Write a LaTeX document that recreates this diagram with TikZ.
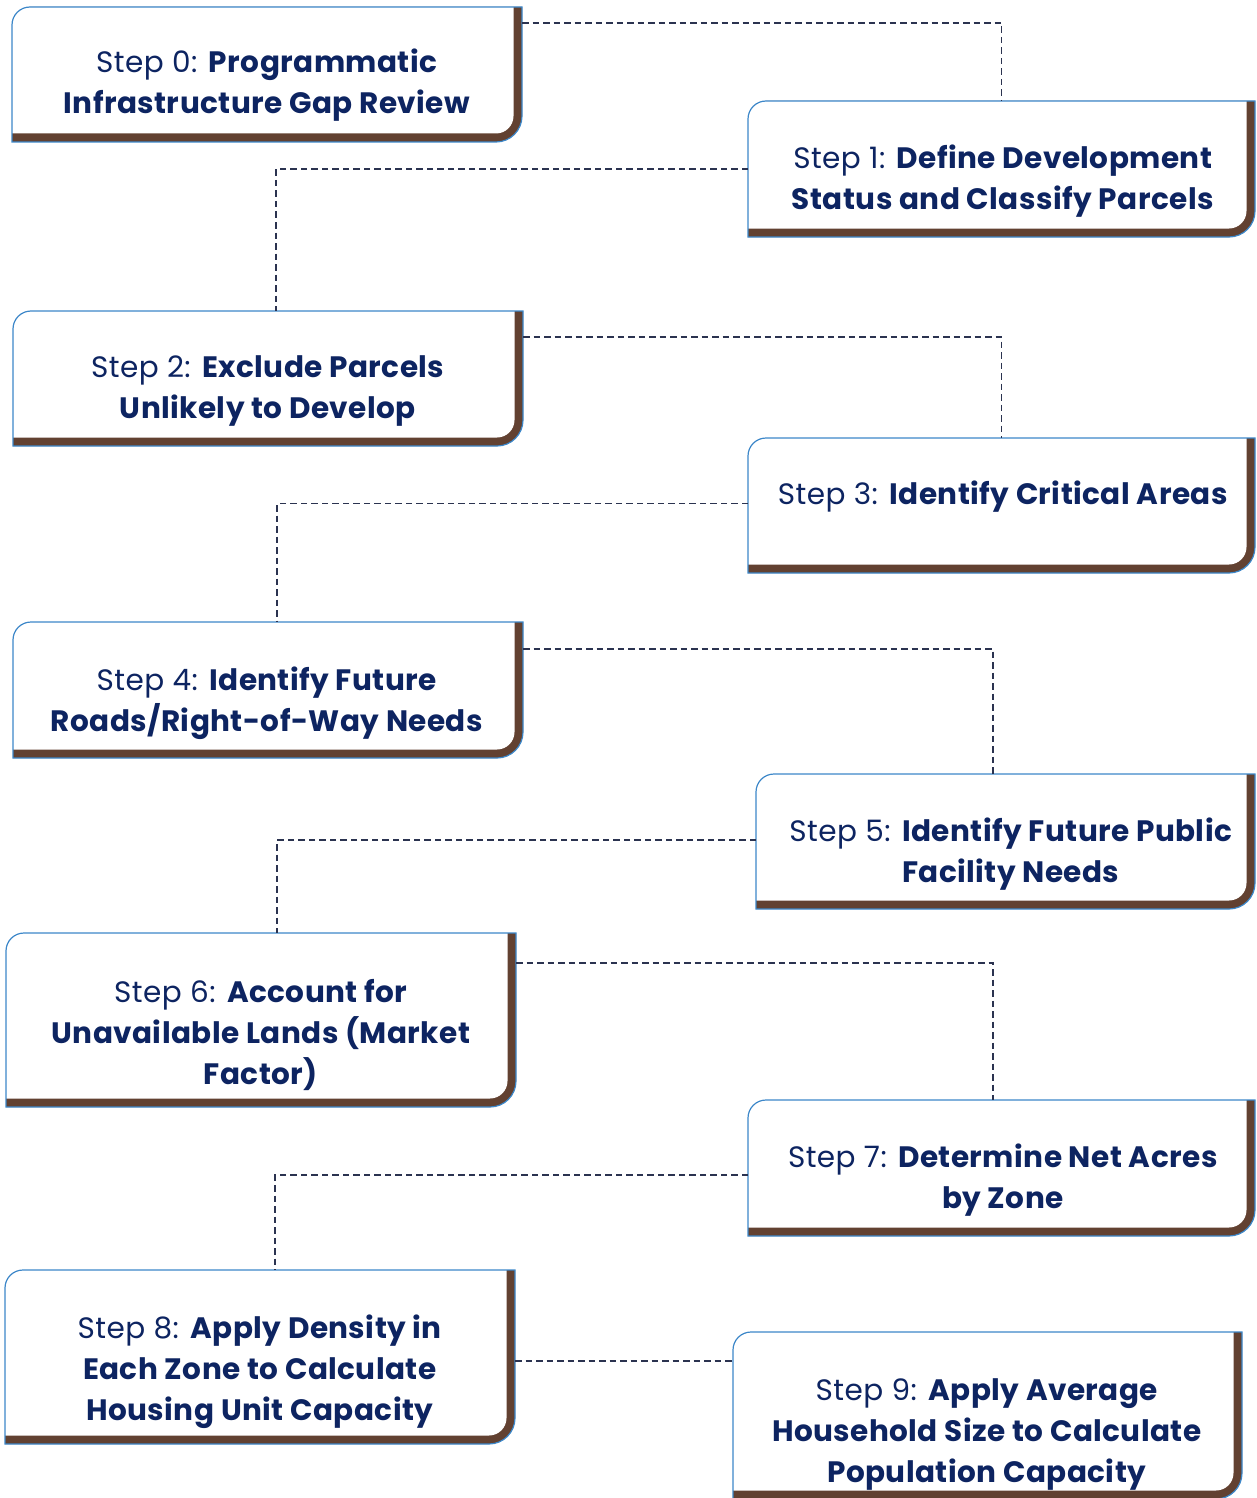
\documentclass[tikz,border=0pt]{standalone}
\usepackage{fontspec}
\setmainfont{Poppins}[LetterSpace=1.5]
\usetikzlibrary{calc}
\definecolor{navy}{HTML}{0D2461}
\definecolor{bark}{HTML}{624131}
\definecolor{rim}{HTML}{3C87C9}
\definecolor{linkc}{HTML}{2B3350}

\tikzset{
  x=1pt, y=1pt,
  area/.style={inner sep=0pt, outer sep=0pt, minimum width=#1},
  steptext/.style={text=navy, align=center, inner sep=0pt,
    font={\fontsize{29.5pt}{41pt}\selectfont}},
  link/.style={linkc, line width=1.5pt, dash pattern=on 6.5pt off 4pt},
}

% Panel: white card, brown band along the right and bottom, thin blue rim
\newcommand\outline[1]{(#1.south west) -- ([yshift=-18pt]#1.north west)
  arc[start angle=180,end angle=90,radius=18pt] -- (#1.north east)
  -- ([yshift=26pt]#1.south east) arc[start angle=0,end angle=-90,radius=26pt] -- cycle}
\newcommand\panel[1]{%
  \fill[bark] \outline{#1};
  \fill[white] ([yshift=8.5pt]#1.south west) -- ([yshift=-18pt]#1.north west)
    arc[start angle=180,end angle=90,radius=18pt] -- ([xshift=-8.5pt]#1.north east)
    -- ([xshift=-8.5pt,yshift=26pt]#1.south east)
    arc[start angle=0,end angle=-90,radius=17.5pt] -- cycle;
  \draw[rim, line width=1.2pt] \outline{#1};
}

\begin{document}
\begin{tikzpicture}
\useasboundingbox (0,0) rectangle (1256,-1498);

% card areas
\node[area=510pt, minimum height=135pt] (b0) at (267,-74.5) {};
\node[area=507pt, minimum height=136pt] (b1) at (1001.5,-169) {};
\node[area=510pt, minimum height=135pt] (b2) at (268,-378.5) {};
\node[area=507pt, minimum height=135pt] (b3) at (1001.5,-505.5) {};
\node[area=510pt, minimum height=136pt] (b4) at (268,-690) {};
\node[area=499pt, minimum height=135pt] (b5) at (1005.5,-841.5) {};
\node[area=510pt, minimum height=174pt] (b6) at (261,-1020) {};
\node[area=507pt, minimum height=136pt] (b7) at (1001.5,-1168) {};
\node[area=510pt, minimum height=174pt] (b8) at (260,-1357) {};
\node[area=509pt, minimum height=167pt] (b9) at (987.5,-1415.5) {};

\foreach \b in {b0,b1,b2,b3,b4,b5,b6,b7,b8,b9} {\panel{\b}}

% connectors
\draw[link] ([yshift=-16pt]b0.north east) -| (b1.north);
\draw[link] (b1.west) -| ([xshift=8pt]b2.north);
\draw[link] ([yshift=-26pt]b2.north east) -| (b3.north);
\draw[link] ([yshift=2pt]b3.west) -| ([xshift=9pt]b4.north);
\draw[link] ([yshift=-27pt]b4.north east) -| ([xshift=-12.5pt]b5.north);
\draw[link] ([yshift=1.5pt]b5.west) -| ([xshift=16pt]b6.north);
\draw[link] ([yshift=-30pt]b6.north east) -| ([xshift=-8.5pt]b7.north);
\draw[link] ([yshift=-7pt]b7.west) -| ([xshift=15pt]b8.north);
\coordinate (j9) at ([yshift=-29pt]b9.north west);
\draw[link] (j9 -| b8.east) -- (j9);

% labels
\node[steptext] (t0) at (267,-85) {Step 0: \textbf{Programmatic}\\\textbf{Infrastructure Gap Review}};
\node[steptext] (t1) at (1003,-181) {Step 1: \textbf{Define Development}\\\textbf{Status and Classify Parcels}};
\node[steptext] (t2) at (268,-391) {Step 2: \textbf{Exclude Parcels}\\\textbf{Unlikely to Develop}};
\node[steptext] (t3) at (1003,-497) {Step 3: \textbf{Identify Critical Areas}};
\node[steptext] (t4) at (267,-703) {Step 4: \textbf{Identify Future}\\\textbf{Roads/Right-of-Way Needs}};
\node[steptext] (t5) at (1011,-854) {Step 5: \textbf{Identify Future Public}\\\textbf{Facility Needs}};
\node[steptext] (t6) at (261,-1035) {Step 6: \textbf{Account for}\\\textbf{Unavailable Lands (Market}\\\textbf{Factor)}};
\node[steptext] (t7) at (1003,-1180) {Step 7: \textbf{Determine Net Acres}\\\textbf{by Zone}};
\node[steptext] (t8) at (260,-1372) {Step 8: \textbf{Apply Density in}\\\textbf{Each Zone to Calculate}\\\textbf{Housing Unit Capacity}};
\node[steptext] (t9) at (987,-1434) {Step 9: \textbf{Apply Average}\\\textbf{Household Size to Calculate}\\\textbf{Population Capacity}};
\end{tikzpicture}
\end{document}
